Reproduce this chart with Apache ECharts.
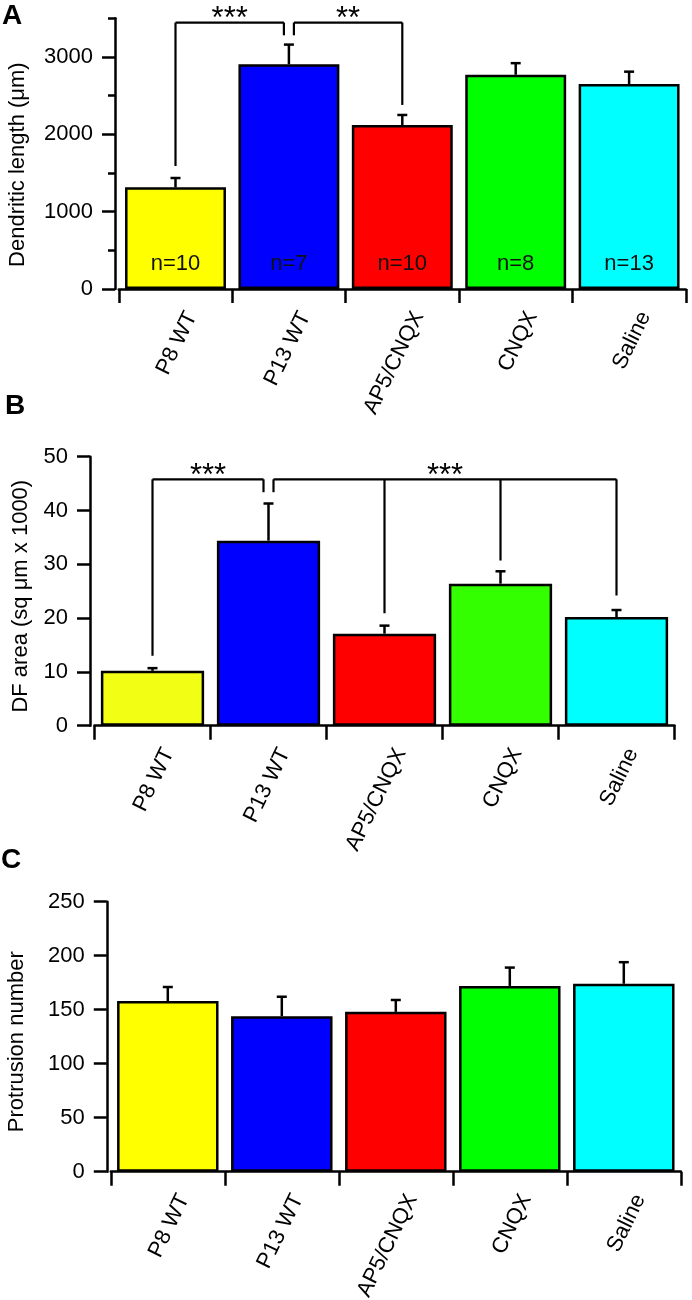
<!DOCTYPE html>
<html>
<head>
<meta charset="utf-8">
<script src="https://cdn.jsdelivr.net/npm/echarts@6/dist/echarts.min.js"></script>
<style>
  html, body { margin: 0; padding: 0; background: #fff; }
  #chart { width: 692px; height: 1300px; }
</style>
</head>
<body>
<div id="chart"></div>
<script>
// groups shown in every panel
const groups = ['P8 WT', 'P13 WT', 'AP5/CNQX', 'CNQX', 'Saline'];
const colorsA = ['#ffff00', '#0000ff', '#ff0000', '#00ff00', '#00ffff'];
const colorsB = ['#f2ff14', '#0000ff', '#ff0000', '#33ff00', '#00ffff'];

// A: dendritic length (um)
const lengthMean = [1315, 2905, 2120, 2770, 2650];
const lengthSem = [120, 255, 130, 150, 160];
const nLabels = ['n=10', 'n=7', 'n=10', 'n=8', 'n=13'];
const lengthMajorTicks = [0, 1000, 2000, 3000];
const lengthMinorTicks = [500, 1500, 2500, 3500];

// B: DF area (sq um x 1000)
const areaMean = [10.2, 34.4, 17.1, 26.4, 20.2];
const areaSem = [0.5, 6.9, 1.5, 2.3, 1.3];

// C: protrusion number
const protMean = [158, 144, 148, 172, 174];
const protSem = [13, 18, 11, 17, 20];

// significance brackets: legs are [group index, value where the leg stops]
const bracketsA = [
  {legs: [[0, 1590], [1, 3280]], top: 3445, text: '***'},
  {legs: [[1, 3280], [2, 2380]], top: 3445, text: '**'}
];
const bracketsB = [
  {legs: [[0, 13.0], [1, 43.4]], top: 45.8, text: '***'},
  {legs: [[1, 43.4], [2, 20.9], [3, 30.7], [4, 24.2]], top: 45.8, text: '***'}
];

const FONT = "'Liberation Sans', Arial, Helvetica, sans-serif";
const black = '#000';

function barSeries(xi, yi, means, colors, labels) {
  return {
    type: 'bar',
    xAxisIndex: xi,
    yAxisIndex: yi,
    barCategoryGap: '11%',
    data: means.map((v, i) => ({value: v, itemStyle: {color: colors[i]}})),
    itemStyle: {borderColor: black, borderWidth: 2.5},
    label: labels ? {
      show: true,
      position: 'insideBottom',
      distance: 14,
      formatter: (p) => labels[p.dataIndex],
      fontFamily: FONT,
      fontSize: 22,
      color: '#111'
    } : {show: false},
    z: 2
  };
}

function errorSeries(xi, yi, means, sems) {
  return {
    type: 'custom',
    xAxisIndex: xi,
    yAxisIndex: yi,
    clip: false,
    data: means.map((m, i) => [i, m, m + sems[i]]),
    encode: {x: 0, y: [1, 2]},
    renderItem: function(params, api) {
      const base = api.coord([api.value(0), api.value(1)]);
      const top = api.coord([api.value(0), api.value(2)]);
      const st = {stroke: black, lineWidth: 2.5};
      return {
        type: 'group',
        children: [
          {type: 'line', shape: {x1: base[0], y1: base[1], x2: top[0], y2: top[1]}, style: st},
          {type: 'line', shape: {x1: top[0] - 5, y1: top[1], x2: top[0] + 5, y2: top[1]}, style: st}
        ]
      };
    },
    z: 3
  };
}

function bracketSeries(xi, yi, brackets) {
  // a group leg shared by two brackets is split in two, each half pulled inward
  const useCount = {};
  brackets.forEach((b) => b.legs.forEach(([c]) => { useCount[c] = (useCount[c] || 0) + 1; }));
  return {
    type: 'custom',
    xAxisIndex: xi,
    yAxisIndex: yi,
    clip: false,
    data: brackets.map((b, i) => [i, b.top]),
    encode: {x: 0, y: 1},
    renderItem: function(params, api) {
      const b = brackets[params.dataIndex];
      const yTop = api.coord([0, b.top])[1];
      const last = b.legs.length - 1;
      const legs = b.legs.map(([c, v], k) => {
        const p = api.coord([c, v]);
        let x = p[0];
        if (useCount[c] > 1) x += (k === 0 ? 5 : (k === last ? -5 : 0));
        return [x, p[1]];
      });
      const st = {stroke: black, lineWidth: 2.2, fill: null};
      const children = [{
        type: 'line',
        shape: {x1: legs[0][0], y1: yTop, x2: legs[last][0], y2: yTop},
        style: st
      }];
      legs.forEach(([x, y]) => {
        children.push({type: 'line', shape: {x1: x, y1: yTop, x2: x, y2: y}, style: st});
      });
      children.push({
        type: 'text',
        style: {
          text: b.text,
          x: (legs[0][0] + legs[last][0]) / 2,
          y: yTop - 3,
          align: 'center',
          verticalAlign: 'middle',
          fontFamily: FONT,
          fontSize: 31,
          fill: black
        }
      });
      return {type: 'group', children: children};
    },
    z: 4
  };
}

function catAxis(gi) {
  return {
    type: 'category',
    gridIndex: gi,
    data: groups,
    offset: 3,
    axisLine: {lineStyle: {color: black, width: 2.5}},
    axisTick: {show: true, interval: 0, length: 14, lineStyle: {color: black, width: 2.5}},
    axisLabel: {
      interval: 0,
      rotate: 64,
      margin: 13,
      verticalAlign: 'top',
      lineHeight: 36,
      fontFamily: FONT,
      fontSize: 22,
      color: black
    }
  };
}

function valAxis(gi, max, interval, name, nameGap, offset, namePad) {
  return {
    type: 'value',
    gridIndex: gi,
    position: 'left',
    min: 0,
    max: max,
    interval: interval,
    offset: offset,
    name: name,
    nameLocation: 'middle',
    nameRotate: 90,
    nameGap: nameGap,
    nameTextStyle: {fontFamily: FONT, fontSize: 22, color: black, padding: [0, namePad, 0, 0]},
    splitLine: {show: false},
    axisLine: {show: true, lineStyle: {color: black, width: 2.5}},
    axisTick: {show: true, length: 13, lineStyle: {color: black, width: 2.5}},
    axisLabel: {
      margin: 22,
      formatter: (v) => String(v),
      fontFamily: FONT,
      fontSize: 22,
      color: black
    }
  };
}

const yA = valAxis(0, 3500, 500, 'Dendritic length (\u03bcm)', 86, 3.8, 22);
yA.axisTick.customValues = lengthMajorTicks;
yA.axisLabel.customValues = lengthMajorTicks;
const yAminor = {
  type: 'value',
  gridIndex: 0,
  position: 'left',
  min: 0,
  max: 3500,
  interval: 500,
  offset: 3.8,
  splitLine: {show: false},
  axisLine: {show: false},
  axisTick: {show: true, length: 7, customValues: lengthMinorTicks, lineStyle: {color: black, width: 2.5}},
  axisLabel: {show: false}
};

const gridBase = {containLabel: false, outerBoundsMode: 'none'};

const chart = echarts.init(document.getElementById('chart'), null, {renderer: 'canvas'});
chart.setOption({
  animation: false,
  backgroundColor: '#fff',
  title: [
    {text: 'A', left: 2, top: 2},
    {text: 'B', left: 5, top: 392},
    {text: 'C', left: 1, top: 846}
  ].map((t) => Object.assign(t, {
    padding: 0,
    textStyle: {fontFamily: FONT, fontSize: 28, fontWeight: 'bold', color: black}
  })),
  grid: [
    Object.assign({left: 118.8, top: 18.3, width: 567, height: 270.7}, gridBase),
    Object.assign({left: 94.5, top: 456.7, width: 580, height: 269}, gridBase),
    Object.assign({left: 110.8, top: 901.7, width: 570, height: 270}, gridBase)
  ],
  xAxis: [catAxis(0), catAxis(1), catAxis(2)],
  yAxis: [
    yA,
    yAminor,
    valAxis(1, 50, 10, 'DF area (sq \u03bcm x 1000)', 58, 4.5, 10),
    valAxis(2, 250, 50, 'Protrusion number', 79, 4, 10)
  ],
  series: [
    barSeries(0, 0, lengthMean, colorsA, nLabels),
    errorSeries(0, 0, lengthMean, lengthSem),
    bracketSeries(0, 0, bracketsA),
    barSeries(1, 2, areaMean, colorsB, null),
    errorSeries(1, 2, areaMean, areaSem),
    bracketSeries(1, 2, bracketsB),
    barSeries(2, 3, protMean, colorsA, null),
    errorSeries(2, 3, protMean, protSem)
  ]
});
</script>
</body>
</html>
